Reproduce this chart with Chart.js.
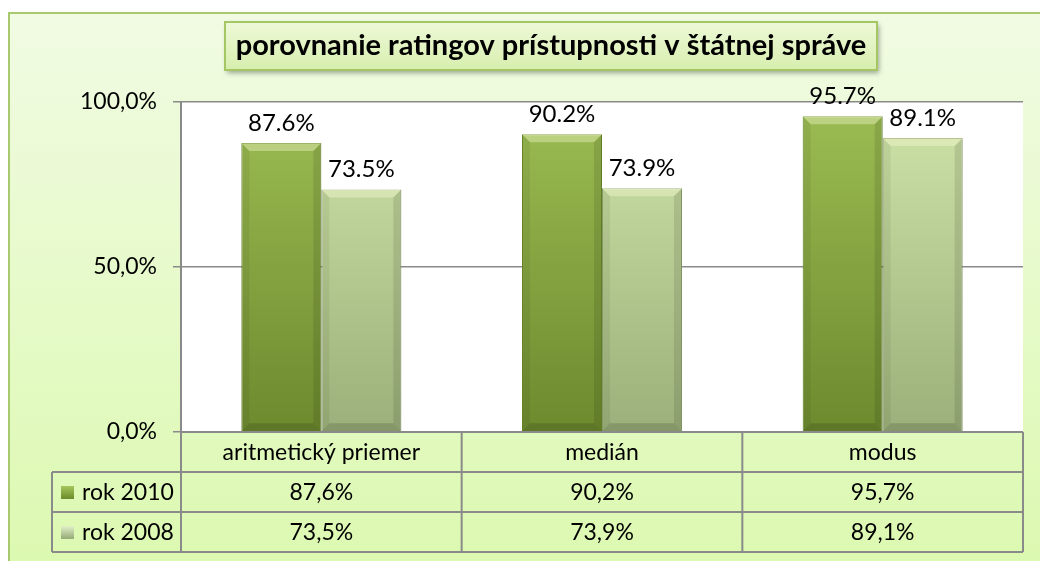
<!DOCTYPE html>
<html><head><meta charset="utf-8">
<script src="https://cdn.jsdelivr.net/npm/chart.js@4.4.0/dist/chart.umd.min.js"></script>
<style>html,body{margin:0;padding:0;background:#fff}canvas{display:block}</style>
</head><body>
<canvas id="c" width="1040" height="561"></canvas>
<script>
const categories = ['aritmetický priemer', 'medián', 'modus'];
const seriesNames = ['rok 2010', 'rok 2008'];
const values2010 = [87.6, 90.2, 95.7];
const values2008 = [73.5, 73.9, 89.1];
const titleText = 'porovnanie ratingov prístupnosti v štátnej správe';
const yTicks = [0, 50, 100];

const FONT = 'Lato, "Open Sans", sans-serif';
const fmtComma = v => v.toFixed(1).replace('.', ',') + '%';
const fmtDot = v => v.toFixed(1) + '%';

function barGrad(ctx, chartArea, top, bottom) {
  const g = ctx.createLinearGradient(0, chartArea.top, 0, chartArea.bottom);
  g.addColorStop(0, top); g.addColorStop(1, bottom);
  return g;
}

function poly(ctx, pts, fill) {
  ctx.beginPath();
  ctx.moveTo(pts[0][0], pts[0][1]);
  for (let i = 1; i < pts.length; i++) ctx.lineTo(pts[i][0], pts[i][1]);
  ctx.closePath();
  ctx.fillStyle = fill; ctx.fill();
}

const framePlugin = {
  id: 'frame',
  beforeDraw(chart) {
    const ctx = chart.ctx, a = chart.chartArea;
    ctx.save();
    ctx.fillStyle = '#fff';
    ctx.fillRect(0, 0, chart.width, chart.height);
    const g = ctx.createLinearGradient(0, 12, 0, 561);
    g.addColorStop(0, '#f1fbe3');
    g.addColorStop(1, '#dcf9b1');
    ctx.fillStyle = g;
    ctx.fillRect(8, 12, 1040, 560);
    ctx.strokeStyle = '#a9c96e';
    ctx.lineWidth = 2;
    ctx.strokeRect(9, 13, 1040, 560);
    ctx.fillStyle = '#ffffff';
    ctx.fillRect(a.left, a.top, a.right - a.left, a.bottom - a.top);
    ctx.shadowColor = 'rgba(0,0,0,0.35)';
    ctx.shadowBlur = 5; ctx.shadowOffsetX = 2; ctx.shadowOffsetY = 3;
    const tg = ctx.createLinearGradient(0, 22, 0, 70);
    tg.addColorStop(0, '#eef9d8'); tg.addColorStop(1, '#d7eeae');
    ctx.fillStyle = tg;
    ctx.fillRect(225, 22, 652, 48);
    ctx.shadowColor = 'transparent';
    ctx.strokeStyle = '#a4c764'; ctx.lineWidth = 2;
    ctx.strokeRect(225, 22, 652, 48);
    ctx.fillStyle = '#000';
    ctx.font = 'bold 29px ' + FONT;
    ctx.textAlign = 'center'; ctx.textBaseline = 'middle';
    ctx.fillText(titleText, 551, 46);
    ctx.restore();
  },
  afterDraw(chart) {
    const ctx = chart.ctx, a = chart.chartArea;
    const x = chart.scales.x;
    const n = categories.length;
    const colW = (a.right - a.left) / n;
    const rowH = 40;
    const top = a.bottom;
    const legL = 52;
    ctx.save();
    ctx.strokeStyle = '#8a8a8a'; ctx.lineWidth = 2;
    ctx.beginPath();
    ctx.moveTo(a.left, top); ctx.lineTo(a.right, top);
    for (let r = 1; r <= 3; r++) {
      ctx.moveTo(legL, top + r * rowH); ctx.lineTo(a.right, top + r * rowH);
    }
    ctx.moveTo(legL, top + rowH); ctx.lineTo(legL, top + 3 * rowH);
    for (let i = 0; i <= n; i++) {
      const xx = a.left + i * colW;
      ctx.moveTo(xx, top); ctx.lineTo(xx, top + 3 * rowH);
    }
    ctx.stroke();
    ctx.fillStyle = '#000';
    ctx.font = '23px ' + FONT;
    ctx.textAlign = 'center'; ctx.textBaseline = 'middle';
    const rows = [values2010, values2008];
    for (let i = 0; i < n; i++) {
      const cx = x.getPixelForValue(i);
      ctx.fillText(categories[i], cx, top + rowH / 2 + 1);
      rows.forEach((vals, r) => ctx.fillText(fmtComma(vals[i]), cx, top + rowH * (r + 1.5) + 1));
    }
    const keyCols = [['#a4c75c', '#6f8f2c'], ['#e2f0c8', '#9aae7c']];
    ctx.textAlign = 'left';
    seriesNames.forEach((name, r) => {
      const cy = top + rowH * (r + 1.5);
      const kg = ctx.createLinearGradient(0, cy - 6, 0, cy + 6);
      kg.addColorStop(0, keyCols[r][0]); kg.addColorStop(1, keyCols[r][1]);
      ctx.fillStyle = kg;
      ctx.fillRect(61, cy - 6, 13, 13);
      ctx.fillStyle = '#000';
      ctx.fillText(name, 82, cy + 1);
    });
    ctx.restore();
  },
  afterDatasetsDraw(chart) {
    const ctx = chart.ctx;
    ctx.save();
    // bevel
    const b = 8;
    chart.data.datasets.forEach((ds, di) => {
      chart.getDatasetMeta(di).data.forEach(bar => {
        const l = bar.x - bar.width / 2, r = bar.x + bar.width / 2, t = bar.y, bt = bar.base;
        poly(ctx, [[l, t], [r, t], [r - b, t + b], [l + b, t + b]], 'rgba(255,255,220,0.35)');
        poly(ctx, [[l, t], [l + b, t + b], [l + b, bt - b], [l, bt]], 'rgba(0,0,0,0.06)');
        poly(ctx, [[r, t], [r - b, t + b], [r - b, bt - b], [r, bt]], 'rgba(0,0,0,0.10)');
        poly(ctx, [[l, bt], [l + b, bt - b], [r - b, bt - b], [r, bt]], 'rgba(0,0,0,0.14)');
      });
    });
    ctx.fillStyle = '#000';
    ctx.font = '24px ' + FONT;
    ctx.textAlign = 'center'; ctx.textBaseline = 'middle';
    chart.data.datasets.forEach((ds, di) => {
      chart.getDatasetMeta(di).data.forEach((bar, i) => {
        ctx.fillText(fmtDot(ds.data[i]), bar.x, bar.y - 20);
      });
    });
    ctx.restore();
  }
};

new Chart(document.getElementById('c'), {
  type: 'bar',
  data: {
    labels: categories,
    datasets: [
      { label: seriesNames[0], data: values2010,
        backgroundColor: c => c.chart.chartArea ? barGrad(c.chart.ctx, c.chart.chartArea, '#9cbd53', '#6d8a2e') : '#8cab45',
        borderColor: '#6a8a2a', borderWidth: 1 },
      { label: seriesNames[1], data: values2008,
        backgroundColor: c => c.chart.chartArea ? barGrad(c.chart.ctx, c.chart.chartArea, '#cfe4a8', '#9bb07a') : '#b6cc90',
        borderColor: '#8ea46c', borderWidth: 1 }
    ]
  },
  options: {
    responsive: false,
    animation: false,
    events: [],
    layout: { padding: { top: 102, bottom: 129, left: 0, right: 17 } },
    plugins: { legend: { display: false }, title: { display: false }, tooltip: { enabled: false } },
    datasets: { bar: { categoryPercentage: 0.57, barPercentage: 1.0 } },
    scales: {
      x: { display: false },
      y: {
        min: 0, max: 100,
        afterFit(s) { s.width = 181; },
        afterBuildTicks(s) { s.ticks = yTicks.map(v => ({ value: v })); },
        ticks: { font: { family: FONT, size: 23 }, color: '#000', padding: 16, callback: v => fmtComma(v) },
        grid: { color: '#8a8a8a', lineWidth: 1.5, tickLength: 8, drawTicks: true },
        border: { display: true, color: '#8a8a8a', width: 2 }
      }
    }
  },
  plugins: [framePlugin]
});
</script>
</body></html>
